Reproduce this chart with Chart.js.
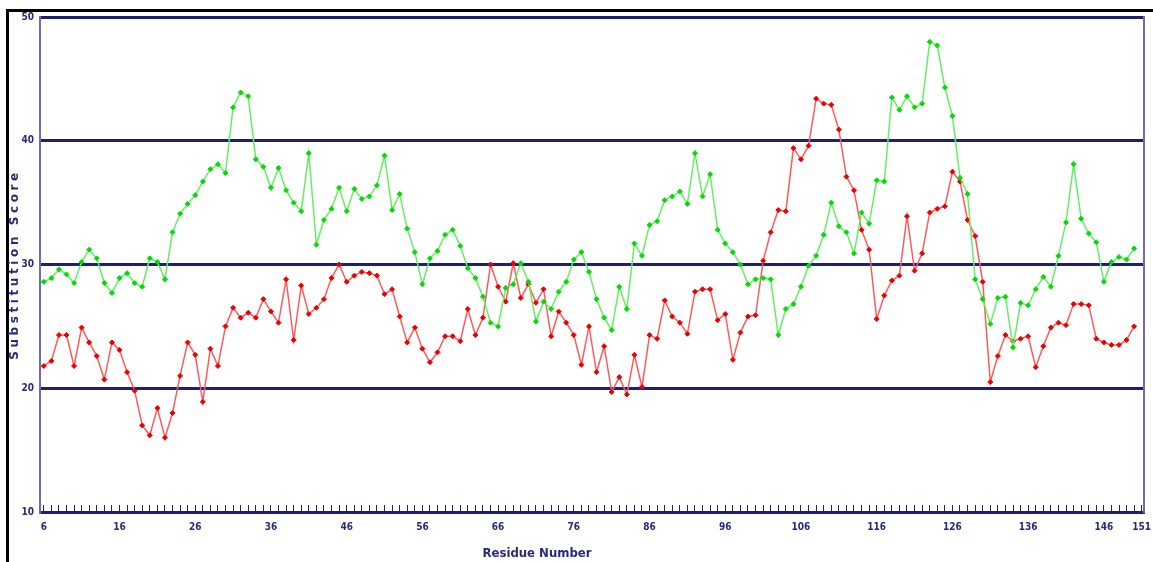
<!DOCTYPE html>
<html>
<head>
<meta charset="utf-8">
<title>Substitution Score</title>
<script src="https://cdn.jsdelivr.net/npm/chart.js@4.4.1/dist/chart.umd.min.js"></script>
<style>
    html, body { margin: 0; padding: 0; background: #fff; }
    #wrap { position: relative; width: 1153px; height: 562px; overflow: hidden; }
    #frame {
        position: absolute; left: 6px; top: 9px; right: -10px; bottom: -10px;
        border-top: 3px solid #000; border-left: 3px solid #000; pointer-events: none;
    }
    #chart { position: absolute; left: 0; top: 0; }
</style>
</head>
<body>
<div id="wrap">
    <div id="frame"></div>
    <canvas id="chart" width="1153" height="562"></canvas>
</div>
<script>
// Residue numbers run from 6, one point per residue
const firstResidue = 6;

// Green series, residues 6..150
const greenScores = [
    28.6, 28.9, 29.6, 29.2, 28.5, 30.2, 31.2, 30.5, 28.5, 27.7,
    28.9, 29.3, 28.5, 28.2, 30.5, 30.2, 28.8, 32.6, 34.1, 34.9,
    35.6, 36.7, 37.7, 38.1, 37.4, 42.7, 43.9, 43.6, 38.5, 37.9,
    36.2, 37.8, 36.0, 35.0, 34.3, 39.0, 31.6, 33.6, 34.5, 36.2,
    34.3, 36.1, 35.3, 35.5, 36.4, 38.8, 34.4, 35.7, 32.9, 31.0,
    28.4, 30.5, 31.1, 32.4, 32.8, 31.5, 29.7, 28.9, 27.4, 25.3,
    25.0, 28.1, 28.4, 30.1, 28.6, 25.4, 27.0, 26.4, 27.8, 28.6,
    30.4, 31.0, 29.4, 27.2, 25.7, 24.7, 28.2, 26.4, 31.7, 30.7,
    33.2, 33.5, 35.2, 35.5, 35.9, 34.9, 39.0, 35.5, 37.3, 32.8,
    31.7, 31.0, 30.0, 28.4, 28.8, 28.9, 28.8, 24.3, 26.4, 26.8,
    28.2, 29.9, 30.7, 32.4, 35.0, 33.1, 32.6, 30.9, 34.2, 33.3,
    36.8, 36.7, 43.5, 42.5, 43.6, 42.7, 43.0, 48.0, 47.7, 44.3,
    42.0, 37.0, 35.7, 28.8, 27.2, 25.2, 27.3, 27.4, 23.3, 26.9,
    26.7, 28.0, 29.0, 28.2, 30.7, 33.4, 38.1, 33.7, 32.5, 31.8,
    28.6, 30.2, 30.6, 30.4, 31.3,
];

// Red series, residues 6..150
const redScores = [
    21.8, 22.2, 24.3, 24.3, 21.8, 24.9, 23.7, 22.6, 20.7, 23.7,
    23.1, 21.3, 19.8, 17.0, 16.2, 18.4, 16.0, 18.0, 21.0, 23.7,
    22.7, 18.9, 23.2, 21.8, 25.0, 26.5, 25.7, 26.1, 25.7, 27.2,
    26.2, 25.3, 28.8, 23.9, 28.3, 26.0, 26.5, 27.2, 28.9, 30.0,
    28.6, 29.1, 29.4, 29.3, 29.1, 27.6, 28.0, 25.8, 23.7, 24.9,
    23.2, 22.1, 22.9, 24.2, 24.2, 23.8, 26.4, 24.3, 25.7, 30.0,
    28.2, 27.0, 30.1, 27.3, 28.4, 26.9, 28.0, 24.2, 26.2, 25.3,
    24.3, 21.9, 25.0, 21.3, 23.4, 19.7, 20.9, 19.5, 22.7, 20.1,
    24.3, 24.0, 27.1, 25.8, 25.3, 24.4, 27.8, 28.0, 28.0, 25.5,
    26.0, 22.3, 24.5, 25.8, 25.9, 30.3, 32.6, 34.4, 34.3, 39.4,
    38.5, 39.6, 43.4, 43.0, 42.9, 40.9, 37.1, 36.0, 32.8, 31.2,
    25.6, 27.5, 28.7, 29.1, 33.9, 29.5, 30.9, 34.2, 34.5, 34.7,
    37.5, 36.7, 33.6, 32.3, 28.6, 20.5, 22.6, 24.3, 23.8, 24.0,
    24.2, 21.7, 23.4, 24.9, 25.3, 25.1, 26.8, 26.8, 26.7, 24.0,
    23.7, 23.5, 23.5, 23.9, 25.0,
];

// Axis labels
const xTickLabels = [6, 16, 26, 36, 46, 56, 66, 76, 86, 96, 106, 116, 126, 136, 146, 151];
const yTickLabels = [10, 20, 30, 40, 50];

const navy = "#1f1f73";
const textNavy = "#28287f";
const axisBlue = "#6c6cb6";

const tickFont = {
    family: "'DejaVu Sans Condensed', 'DejaVu Sans', sans-serif",
    size: 10,
    weight: "bold",
};

// Pair each score with its residue number for the linear x axis
function toPoints(scores) {
    return scores.map((score, i) => ({ x: firstResidue + i, y: score }));
}

// Letter spacing for the y title and a left shift for the x title,
// the original figure does not center "Residue Number"
const titleTweaks = {
    id: "titleTweaks",
    beforeDraw(chart) {
        const ctx = chart.ctx;
        const y = chart.scales.y;
        const x = chart.scales.x;
        if (!y._tweaked) {
            const drawY = y.drawTitle.bind(y);
            y.drawTitle = () => {
                ctx.save();
                ctx.letterSpacing = "3.6px";
                drawY();
                ctx.restore();
            };
            y._tweaked = true;
        }
        if (!x._tweaked) {
            const drawX = x.drawTitle.bind(x);
            x.drawTitle = () => {
                ctx.save();
                ctx.translate(-55, 0);
                drawX();
                ctx.restore();
            };
            x._tweaked = true;
        }
    },
};

new Chart(document.getElementById("chart"), {
    type: "line",
    data: {
        datasets: [
            {
                label: "Green",
                data: toPoints(greenScores),
                borderColor: "#62f062",
                borderWidth: 1.5,
                pointStyle: "rectRot",
                pointRadius: 2.5,
                pointBorderWidth: 1,
                pointBackgroundColor: "#00dd00",
                pointBorderColor: "#00dd00",
                tension: 0,
            },
            {
                label: "Red",
                data: toPoints(redScores),
                borderColor: "#ff5a5a",
                borderWidth: 1.5,
                pointStyle: "rectRot",
                pointRadius: 2.5,
                pointBorderWidth: 1,
                pointBackgroundColor: "#ee0000",
                pointBorderColor: "#ee0000",
                tension: 0,
            },
        ],
    },
    options: {
        responsive: false,
        animation: false,
        devicePixelRatio: 1,
        layout: {
            padding: { top: 17, right: 9, bottom: 0, left: 0 },
        },
        plugins: {
            legend: { display: false },
            tooltip: { enabled: false },
        },
        scales: {
            x: {
                type: "linear",
                min: 5.5,
                max: 151.3,
                afterBuildTicks: (scale) => {
                    const ticks = [];
                    const last = xTickLabels[xTickLabels.length - 1];
                    for (let r = firstResidue; r <= last; r++) {
                        ticks.push({ value: r });
                    }
                    scale.ticks = ticks;
                },
                afterFit: (scale) => {
                    scale.height = 50;
                    // the end labels may hang over the edge, as in the original
                    scale.paddingLeft = 0;
                    scale.paddingRight = 0;
                },
                grid: {
                    drawOnChartArea: false,
                    drawTicks: true,
                    tickLength: -7,
                    color: navy,
                    lineWidth: 1,
                },
                border: { color: navy, width: 3 },
                ticks: {
                    autoSkip: false,
                    maxRotation: 0,
                    padding: 16,
                    color: textNavy,
                    font: tickFont,
                    callback: (value) =>
                        xTickLabels.includes(value) ? String(value) : "",
                },
                title: {
                    display: true,
                    text: "Residue Number",
                    color: textNavy,
                    font: {
                        family: "'Liberation Sans Narrow', 'DejaVu Sans Condensed', sans-serif",
                        size: 13,
                        weight: "bold",
                    },
                    padding: { top: 0, bottom: 1 },
                },
            },
            y: {
                min: 10,
                max: 50,
                afterBuildTicks: (scale) => {
                    scale.ticks = yTickLabels.map((v) => ({ value: v }));
                },
                afterFit: (scale) => {
                    scale.width = 40;
                },
                grid: { color: navy, lineWidth: 3, drawTicks: false },
                border: { color: axisBlue, width: 2 },
                ticks: { padding: 6, color: textNavy, font: tickFont },
                title: {
                    display: true,
                    text: "Substitution Score",
                    color: textNavy,
                    font: {
                        family: "'DejaVu Sans', sans-serif",
                        size: 12,
                        weight: "bold",
                    },
                    padding: { top: 8, bottom: 0 },
                },
            },
            yRight: {
                position: "right",
                min: 10,
                max: 50,
                afterFit: (scale) => {
                    scale.width = 0;
                    scale.paddingTop = 0;
                    scale.paddingBottom = 0;
                },
                grid: { display: false, drawTicks: false },
                ticks: { display: false },
                border: { color: axisBlue, width: 2 },
            },
        },
    },
    plugins: [titleTweaks],
});
</script>
</body>
</html>
